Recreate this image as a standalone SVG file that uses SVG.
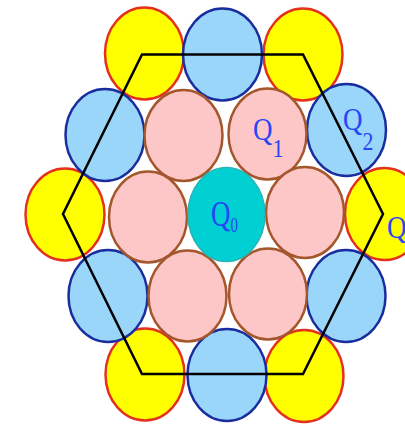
<svg xmlns="http://www.w3.org/2000/svg" width="405" height="425" viewBox="0 0 405 425">
<style>
.y{fill:#ffff00;stroke:#e5301c;stroke-width:2.5}
.b{fill:#9ad5fa;stroke:#1a2d9e;stroke-width:2.5}
.p{fill:#fec7c7;stroke:#a4562c;stroke-width:2.5}
.c{fill:#00d0d2;stroke:#2bb3b5;stroke-width:1.5}
.t{font-family:"Liberation Serif",serif;fill:#2746f5;font-size:27px}
.s{font-size:22px}
</style>
<rect width="405" height="425" fill="#ffffff"/>
<g id="yellow">
<ellipse id="y1" class="y" cx="144.5" cy="53.5" rx="39.5" ry="46"/>
<ellipse id="y2" class="y" cx="303" cy="54.5" rx="39.5" ry="46"/>
<ellipse id="y3" class="y" cx="65" cy="214.5" rx="39.5" ry="46"/>
<ellipse id="y4" class="y" cx="384.5" cy="214" rx="39.5" ry="46"/>
<ellipse id="y5" class="y" cx="145" cy="374.5" rx="39.5" ry="46"/>
<ellipse id="y6" class="y" cx="304" cy="376" rx="39.5" ry="46"/>
</g>
<g id="blue">
<ellipse id="b1" class="b" cx="222.5" cy="54.5" rx="39.5" ry="46"/>
<ellipse id="b2" class="b" cx="105" cy="135" rx="39.5" ry="46"/>
<ellipse id="b3" class="b" cx="346.5" cy="130" rx="39.5" ry="46"/>
<ellipse id="b4" class="b" cx="108" cy="296" rx="39.5" ry="46"/>
<ellipse id="b5" class="b" cx="346" cy="296" rx="39.5" ry="46"/>
<ellipse id="b6" class="b" cx="227" cy="375" rx="39.5" ry="46"/>
</g>
<g id="pink">
<ellipse id="p1" class="p" cx="183.5" cy="135.5" rx="39" ry="45.5"/>
<ellipse id="p2" class="p" cx="267.5" cy="134" rx="39" ry="45.5"/>
<ellipse id="p3" class="p" cx="148" cy="217" rx="39" ry="45.5"/>
<ellipse id="p4" class="p" cx="305" cy="212.5" rx="39" ry="45.5"/>
<ellipse id="p5" class="p" cx="187.5" cy="296" rx="39" ry="45.5"/>
<ellipse id="p6" class="p" cx="268" cy="294" rx="39" ry="45.5"/>
</g>
<g id="center">
<ellipse id="q0" class="c" cx="226.5" cy="214.5" rx="38.5" ry="47"/>
</g>
<g id="connectors">
<polygon points="142,54.5 303,54.5 383,214 303,374 142,374 63,214" fill="none" stroke="#000000" stroke-width="2.5" stroke-linejoin="miter"/>
</g>
<g id="labels">
<text class="t" font-size="23" transform="translate(211,226) scale(1,1.35)">Q<tspan dy="4.4" font-size="15">0</tspan></text>
<text class="t" transform="translate(253,140) scale(1,1.15)">Q<tspan class="s" dy="14.8">1</tspan></text>
<text class="t" transform="translate(343,130) scale(1,1.15)">Q<tspan class="s" dy="17">2</tspan></text>
<text class="t" transform="translate(387,238) scale(1,1.15)">Q</text>
</g>
</svg>
